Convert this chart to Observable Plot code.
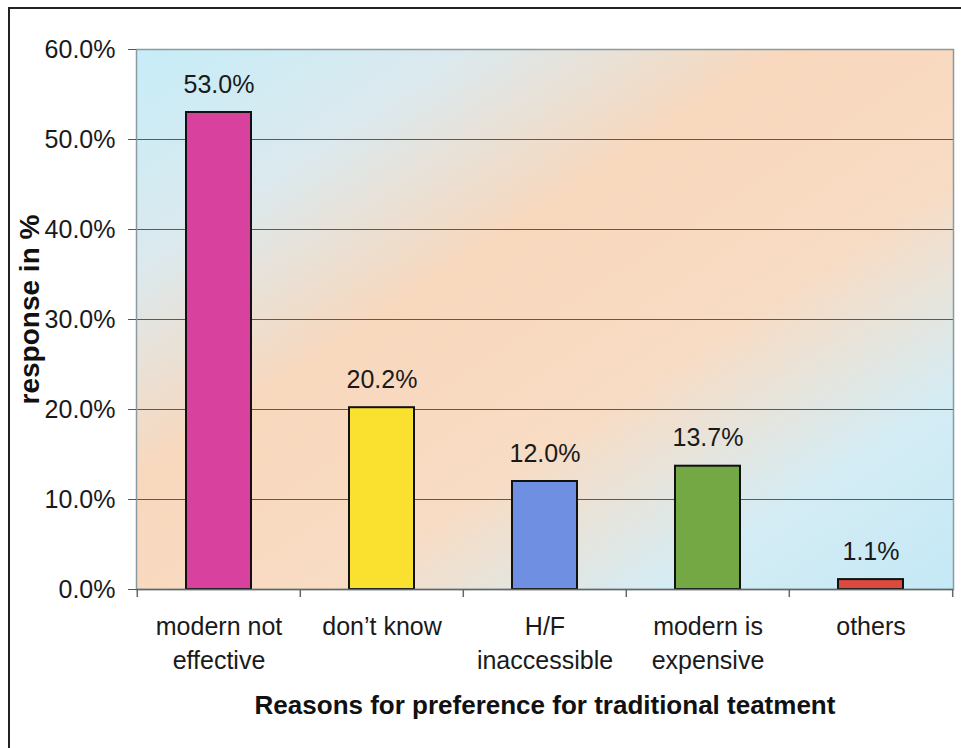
<!DOCTYPE html>
<html>
<head>
<meta charset="utf-8">
<script src="https://cdn.jsdelivr.net/npm/d3@7"></script>
<script src="https://cdn.jsdelivr.net/npm/@observablehq/plot@0.6"></script>
<style>
  html, body { margin: 0; padding: 0; background: #fff; }
  #wrap { position: relative; width: 961px; height: 748px; overflow: hidden; }
  #border { position: absolute; left: 8px; top: 7px; right: -4px; bottom: -4px; border-left: 2px solid #222; border-top: 2px solid #222; pointer-events: none; }
  svg { display: block; }
</style>
</head>
<body>
<div id="wrap"><div id="border"></div></div>
<script>
const categories = ["modern not effective", "don't know", "H/F inaccessible", "modern is expensive", "others"];
const tickLabels = ["modern not\neffective", "don\u2019t know", "H/F\ninaccessible", "modern is\nexpensive", "others"];
const values = [53.0, 20.2, 12.0, 13.7, 1.1];
const barColors = ["#d8429e", "#fbe12f", "#6f8fe2", "#74a844", "#db4a3e"];
const yTicks = [0, 10, 20, 30, 40, 50, 60];
const yLabel = "response in %";
const xLabel = "Reasons for preference for traditional teatment";

const data = categories.map((c, i) => ({category: c, value: values[i], color: barColors[i]}));

const W = 961, H = 748;
const mL = 136, mR = 8, mT = 49, mB = 159;
const bw = (W - mL - mR) / categories.length;
const font = "'Liberation Sans', Arial, sans-serif";

const chart = Plot.plot({
  width: W,
  height: H,
  marginLeft: mL,
  marginRight: mR,
  marginTop: mT,
  marginBottom: mB,
  style: {fontFamily: font, fontSize: "25px", color: "#1a1a1a", background: "transparent"},
  x: {domain: categories, padding: 0, label: null},
  y: {domain: [0, 60], label: null},
  marks: [
    Plot.frame({fill: "url(#bggrad)", stroke: null}),
    Plot.gridY(yTicks.filter(d => d > 0 && d < 60), {stroke: "#5a5a5a", strokeOpacity: 1, strokeWidth: 1.2}),
    Plot.frame({stroke: "#8a9aa0", strokeWidth: 1.5}),
    Plot.barY(data, {x: "category", y: "value", fill: "color", stroke: "#111", strokeWidth: 2, insetLeft: 49, insetRight: 49}),
    Plot.text(data, {x: "category", y: "value", text: d => d.value.toFixed(1) + "%", dy: -28, fontSize: 25, fill: "#1a1a1a"}),
    Plot.axisY({ticks: yTicks, tickFormat: d => d.toFixed(1) + "%", tickSize: 8, tickPadding: 13, fontSize: 25, stroke: "#555"}),
    Plot.ruleY([0], {stroke: "#666", strokeWidth: 1.5}),
    Plot.ruleX(categories, {x: d => d, dx: -bw / 2, y1: 0, y2: 0, insetBottom: -8, stroke: "#666", strokeWidth: 1.5}),
    Plot.ruleX(categories.slice(-1), {x: d => d, dx: bw / 2, y1: 0, y2: 0, insetBottom: -8, stroke: "#666", strokeWidth: 1.5}),
    Plot.axisX({tickSize: 0, tickPadding: 21, tickFormat: (d) => tickLabels[categories.indexOf(d)], fontSize: 25, lineHeight: 1.38, lineAnchor: "top"}),
    Plot.text([xLabel], {frameAnchor: "bottom", lineAnchor: "middle", dy: 116, text: d => d, fontWeight: "bold", fontSize: 26, fill: "#111"}),
    Plot.text([yLabel], {frameAnchor: "left", textAnchor: "middle", lineAnchor: "middle", dx: -106, dy: -10, rotate: -90, text: d => d, fontWeight: "bold", fontSize: 28, fill: "#111"})
  ]
});

const svg = d3.select(chart);
const defs = svg.insert("defs", ":first-child");
const grad = defs.append("linearGradient")
  .attr("id", "bggrad")
  .attr("x1", "0").attr("y1", "0").attr("x2", "1").attr("y2", "1");
grad.append("stop").attr("offset", "0").attr("stop-color", "#c6edf8");
grad.append("stop").attr("offset", "0.2").attr("stop-color", "#dbe9ee");
grad.append("stop").attr("offset", "0.4").attr("stop-color", "#f8d8bd");
grad.append("stop").attr("offset", "0.62").attr("stop-color", "#f8dcc4");
grad.append("stop").attr("offset", "0.82").attr("stop-color", "#d4ecf4");
grad.append("stop").attr("offset", "1").attr("stop-color", "#c4e9f6");

document.getElementById("wrap").prepend(chart);
</script>
</body>
</html>
